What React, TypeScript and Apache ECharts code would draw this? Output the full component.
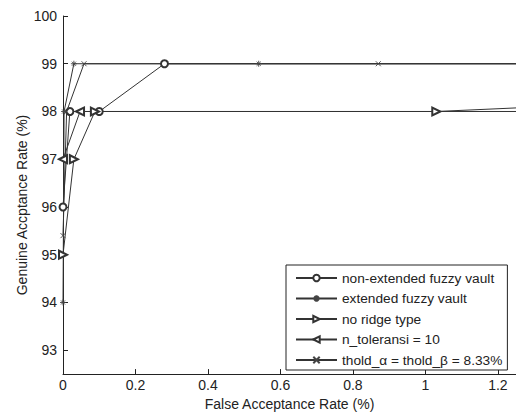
import React, { useEffect, useRef } from "react";
import * as echarts from "echarts";

const seriesNames = [
  "non-extended fuzzy vault",
  "extended fuzzy vault",
  "no ridge type",
  "n_toleransi = 10",
  "thold_\u03b1 = thold_\u03b2 = 8.33%",
];

// last points lie beyond the visible x range (clipped by the grid)
const nonExtended: number[][] = [[0, 96], [0.019, 98], [0.1, 98], [0.28, 99], [1.5, 99]];
const extended: number[][] = [[0, 94], [0.003, 98], [0.03, 99], [0.54, 99], [1.5, 99]];
const noRidge: number[][] = [[0, 95], [0.03, 97], [0.088, 98], [1.03, 98], [1.5, 98.16]];
const nTol: number[][] = [[0, 97], [0.047, 98], [1.5, 98]];
const thold: number[][] = [[0, 95.4], [0.01, 98], [0.058, 99], [0.87, 99], [1.5, 99]];

const yTicks = [93, 94, 95, 96, 97, 98, 99, 100];

const STAR = "path://M5,0L5,10M0,5L10,5M1.6,1.6L8.4,8.4M8.4,1.6L1.6,8.4";
const CROSS = "path://M0,0L10,10M10,0L0,10";

export default function App() {
  const ref = useRef<HTMLDivElement>(null);
  useEffect(() => {
    if (!ref.current) return;
    const chart = echarts.init(ref.current, undefined, { renderer: "svg" });
    const font = "Arial, 'Liberation Sans', sans-serif";
    const lineColor = "#333";
    const mk = (name: string, data: number[][], symbol: string, size: number, rotate = 0) => ({
      name,
      type: "line",
      data,
      symbol,
      symbolSize: size,
      symbolRotate: rotate,
      showAllSymbol: true,
      clip: true,
      lineStyle: { color: lineColor, width: 1 },
      itemStyle: { color: lineColor, borderColor: "#444", borderWidth: 0.9 },
      emphasis: { disabled: true },
    });
    const dataList = [nonExtended, extended, noRidge, nTol, thold];
    chart.setOption({
      animation: false,
      backgroundColor: "#fff",
      textStyle: { fontFamily: font },
      grid: { left: 63, right: -2, top: 16, bottom: 40, containLabel: false },
      xAxis: {
        type: "value",
        min: 0,
        max: 1.25,
        interval: 0.2,
        name: "False Acceptance Rate (%)",
        nameLocation: "middle",
        nameGap: 22,
        nameTextStyle: { fontSize: 14, color: "#222", fontFamily: font },
        axisLine: { lineStyle: { color: "#222", width: 1 } },
        axisTick: { inside: true, length: 5, lineStyle: { color: "#222" } },
        axisLabel: { fontSize: 14, color: "#222", margin: 4, showMaxLabel: false, fontFamily: font },
        splitLine: { show: false },
      },
      yAxis: {
        type: "value",
        min: 92.5,
        max: 100,
        axisLine: { show: true, lineStyle: { color: "#222", width: 1 } },
        axisTick: { show: true, inside: true, length: 5, customValues: yTicks, lineStyle: { color: "#222" } },
        axisLabel: { fontSize: 14, color: "#222", margin: 6, customValues: yTicks, fontFamily: font },
        splitLine: { show: false },
      },
      graphic: [
        {
          type: "text",
          x: 22,
          y: 205,
          rotation: Math.PI / 2,
          style: {
            text: "Genuine Accptance Rate (%)",
            fontSize: 14,
            fontFamily: font,
            fill: "#222",
            align: "center",
            verticalAlign: "middle",
          },
        },
      ],
      legend: {
        left: 286,
        top: 265,
        orient: "vertical",
        backgroundColor: "#fff",
        borderColor: "#222",
        borderWidth: 1,
        borderRadius: 0,
        padding: [6, 5, 3, 9],
        itemWidth: 41,
        itemHeight: 8,
        itemGap: 6.5,
        textStyle: { fontSize: 13.7, color: "#222", fontFamily: font },
        data: seriesNames,
      },
      series: [
        mk(seriesNames[0], dataList[0], "emptyCircle", 7),
        mk(seriesNames[1], dataList[1], STAR, 6),
        mk(seriesNames[2], dataList[2], "emptyTriangle", 8, -90),
        mk(seriesNames[3], dataList[3], "emptyTriangle", 8, 90),
        mk(seriesNames[4], dataList[4], CROSS, 5),
      ],
    });
    return () => chart.dispose();
  }, []);
  return <div ref={ref} style={{ width: 516, height: 416, position: "absolute", left: 0, top: 0 }} />;
}
